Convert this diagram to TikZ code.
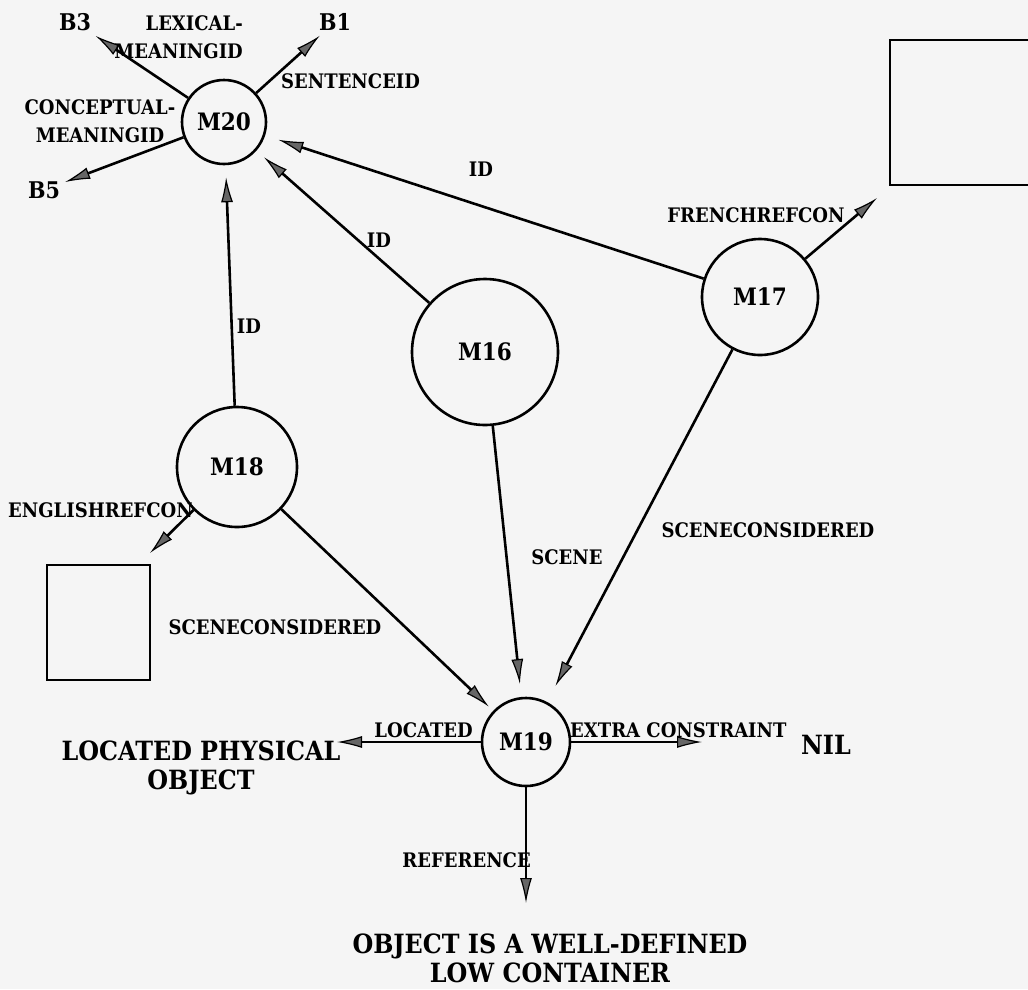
\documentclass[tikz,border=0pt]{standalone}
\usepackage{fontspec}
\setmainfont{DejaVu Serif}[FakeStretch=0.9]
\usetikzlibrary{arrows.meta}
\begin{document}
\begin{tikzpicture}[x=1pt,y=-1pt,
  mnode/.style={circle,draw,line width=2.6pt,inner sep=0pt,font=\bfseries\fontsize{24}{28}\selectfont},
  big/.style={font=\bfseries\fontsize{26.5}{29}\selectfont,inner sep=0pt},
  bnode/.style={font=\bfseries\fontsize{23}{28}\selectfont,inner sep=5pt},
  lbl/.style={font=\bfseries\fontsize{20}{28}\selectfont,inner sep=0pt},
  arr/.style={line width=2.6pt,-{Latex[length=25pt,width=12pt,line width=1.2pt,fill=black!60]}},
  boxst/.style={draw,line width=2.6pt,inner sep=0pt}]
\fill[white!96!black] (0,0) rectangle (1028,989);
\useasboundingbox (0,0) rectangle (1028,989);
% main nodes
\node[mnode,minimum size=84pt] (m20) at (224,122) {M20};
\node[mnode,minimum size=116pt] (m17) at (760,297) {M17};
\node[mnode,minimum size=146pt] (m16) at (485,352) {M16};
\node[mnode,minimum size=120pt] (m18) at (237,467) {M18};
\node[mnode,minimum size=88pt] (m19) at (526,742) {M19};
% targets
\node[bnode] (b3) at (75,22) {B3};
\node[bnode] (b1) at (335,22) {B1};
\node[bnode] (b5) at (44,190) {B5};
\node[boxst,minimum width=103pt,minimum height=115pt] (ebox) at (98.5,622.5) {};
\node[boxst,minimum width=150pt,minimum height=145pt] (fbox) at (965,112.5) {};
\node[big] (nil) at (826,745) {NIL};
\node[big,align=center] (lpo) at (201,768) {LOCATED PHYSICAL\\OBJECT};
\node[big,align=center] (obj) at (550,958) {OBJECT IS A WELL-DEFINED\\LOW CONTAINER};
\coordinate (etip) at (150,553);
\coordinate (ftip) at (877,198);
\coordinate (loctip) at (337,742);
\coordinate (niltip) at (702,742);
\coordinate (reftip) at (526,903);
% connectors
\draw[arr] (m20) -- (b3);
\draw[arr] (m20) -- (b1);
\draw[arr] (m20) -- (b5);
\draw[arr,shorten >=14pt] (m17) -- (m20);
\draw[arr,shorten >=10pt] (m16) -- (m20);
\draw[arr,shorten >=12pt] (m18) -- (m20);
\draw[arr] (m17) -- (ftip);
\draw[arr] (m18) -- (etip);
\draw[arr,shorten >=6pt] (m18) -- (m19);
\draw[arr,shorten >=13pt] (m16) -- (m19);
\draw[arr,shorten >=18pt] (m17) -- (m19);
\draw[arr] (m19) -- (loctip);
\draw[arr] (m19) -- (niltip);
\draw[arr] (m19) -- (reftip);
% labels
\node[lbl,anchor=east,align=right] (lexl) at (243,37) {LEXICAL-\\MEANINGID};
\node[lbl,align=center] (concl) at (100,121) {CONCEPTUAL-\\MEANINGID};
\node[lbl,anchor=west] (sentl) at (281,81) {SENTENCEID};
\node[lbl] (id1) at (481,169) {ID};
\node[lbl] (id2) at (379,240) {ID};
\node[lbl] (id3) at (249,326) {ID};
\node[lbl] (frl) at (756,215) {FRENCHREFCON};
\node[lbl,anchor=west] (enl) at (8,510) {ENGLISHREFCON};
\node[lbl] (scl1) at (275,627) {SCENECONSIDERED};
\node[lbl] (scl2) at (768,530) {SCENECONSIDERED};
\node[lbl] (scnl) at (567,557) {SCENE};
\node[lbl,anchor=east] (locl) at (473,730) {LOCATED};
\node[lbl,anchor=west] (extl) at (570,730) {EXTRA CONSTRAINT};
\node[lbl,anchor=east] (refl) at (531,860) {REFERENCE};
\end{tikzpicture}
\end{document}
